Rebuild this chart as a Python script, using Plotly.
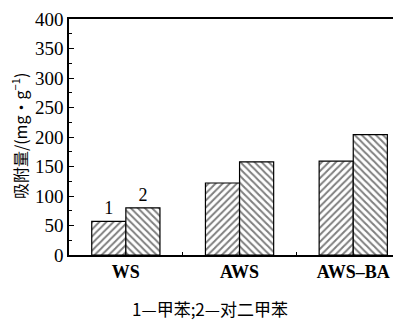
import plotly.graph_objects as go

categories = ["WS", "AWS", "AWS\u2013BA"]
toluene = [57, 122, 159]
pxylene = [80, 158, 204]
bar_labels_1 = ["1", "", ""]
bar_labels_2 = ["2", "", ""]
y_title = "吸附量/(mg·g<sup>−1</sup>)"
caption = "1—甲苯;2—对二甲苯"

serif = "Liberation Serif, Times New Roman, serif"
cjk = "Noto Sans CJK SC, " + serif

fig = go.Figure()
fig.add_trace(go.Bar(
    x=categories, y=toluene, text=bar_labels_1, textposition="outside",
    textfont=dict(family=serif, size=18, color="black"),
    marker=dict(color="white", line=dict(color="black", width=1.2),
                pattern=dict(shape="/", fgcolor="black", bgcolor="white", size=5, solidity=0.4)),
    cliponaxis=False,
))
fig.add_trace(go.Bar(
    x=categories, y=pxylene, text=bar_labels_2, textposition="outside",
    textfont=dict(family=serif, size=18, color="black"),
    marker=dict(color="white", line=dict(color="black", width=1.2),
                pattern=dict(shape="\\", fgcolor="black", bgcolor="white", size=5, solidity=0.4)),
    cliponaxis=False,
))

fig.update_layout(
    width=393, height=312,
    margin=dict(l=61, r=0, t=11, b=65),
    paper_bgcolor="white", plot_bgcolor="white",
    barmode="group", bargap=0.4, bargroupgap=0,
    showlegend=False,
    font=dict(family=serif, color="black"),
    xaxis=dict(
        range=[-0.5, 2.42], showline=True, linecolor="black", linewidth=1.5, mirror=True,
        tickson="boundaries", ticks="inside", ticklen=3, tickcolor="black",
        tickfont=dict(family=serif, size=18, color="black", weight="bold"),
        showgrid=False, zeroline=False,
    ),
    yaxis=dict(
        range=[0, 400], showline=True, linecolor="black", linewidth=1.5,
        tickmode="linear", tick0=0, dtick=50, ticks="inside", ticklen=5, tickcolor="black",
        minor=dict(dtick=25, ticks="inside", ticklen=3, tickcolor="black"),
        tickfont=dict(family=serif, size=19, color="black"),
        showgrid=False, zeroline=False,
    ),
    annotations=[
        dict(text=y_title, xref="paper", yref="paper", x=-0.1506, y=0.504,
             xanchor="center", yanchor="middle", textangle=-90, showarrow=False,
             font=dict(family=cjk, size=16, color="black")),
        dict(text=caption, xref="paper", yref="paper", x=0.425, y=-0.228,
             xanchor="center", yanchor="middle", showarrow=False,
             font=dict(family=cjk, size=17, color="black")),
    ],
)

fig.write_html("out.html")
